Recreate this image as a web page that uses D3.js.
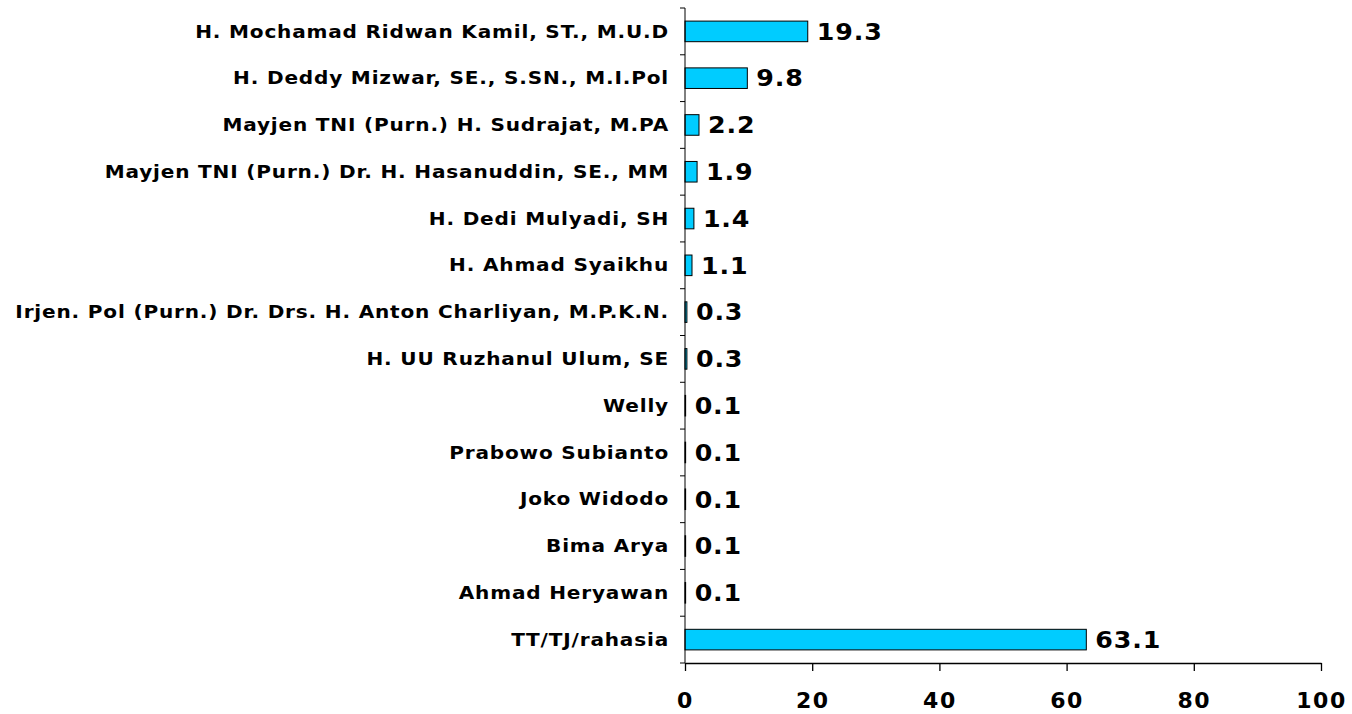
<!DOCTYPE html>
<html>
<head>
<meta charset="utf-8">
<script src="https://cdn.jsdelivr.net/npm/d3@7"></script>
<style>
  body { margin: 0; background: #fff; }
  text { font-family: "DejaVu Sans", Verdana, sans-serif; font-weight: bold; fill: #000; }
</style>
</head>
<body>
<svg id="chart" width="1352" height="714"></svg>
<script>
var categories = [
  "H. Mochamad Ridwan Kamil, ST., M.U.D",
  "H. Deddy Mizwar, SE., S.SN., M.I.Pol",
  "Mayjen TNI (Purn.) H. Sudrajat, M.PA",
  "Mayjen TNI (Purn.) Dr. H. Hasanuddin, SE., MM",
  "H. Dedi Mulyadi, SH",
  "H. Ahmad Syaikhu",
  "Irjen. Pol (Purn.) Dr. Drs. H. Anton Charliyan, M.P.K.N.",
  "H. UU Ruzhanul Ulum, SE",
  "Welly",
  "Prabowo Subianto",
  "Joko Widodo",
  "Bima Arya",
  "Ahmad Heryawan",
  "TT/TJ/rahasia"
];
var values = [19.3, 9.8, 2.2, 1.9, 1.4, 1.1, 0.3, 0.3, 0.1, 0.1, 0.1, 0.1, 0.1, 63.1];
var xTicks = [0, 20, 40, 60, 80, 100];

var margin = {top: 8, left: 685, right: 31, bottom: 51};
var width = 1352 - margin.left - margin.right;
var height = 714 - margin.top - margin.bottom;

var svg = d3.select("#chart")
  .append("g")
  .attr("transform", "translate(" + margin.left + "," + margin.top + ")");

var x = d3.scaleLinear().domain([0, 100]).range([0, width]);
var y = d3.scaleBand().domain(categories).range([0, height]).paddingInner(0.56).paddingOuter(0.28);

// bars
svg.selectAll(".bar")
  .data(values)
  .enter()
  .append("rect")
  .attr("class", "bar")
  .attr("x", x(0))
  .attr("y", function(d, i) { return y(categories[i]); })
  .attr("width", function(d) { return x(d) - x(0); })
  .attr("height", y.bandwidth())
  .style("fill", "#00ccff")
  .style("stroke", "#000")
  .style("stroke-width", 1);

// value labels
svg.selectAll(".val")
  .data(values)
  .enter()
  .append("text")
  .attr("class", "val")
  .attr("transform", function(d, i) {
    return "translate(" + (x(d) + 9) + "," + (y(categories[i]) + y.bandwidth() / 2) + ") scale(1.1,1)";
  })
  .attr("dy", "0.36em")
  .style("font-size", "23px")
  .style("letter-spacing", "0.8px")
  .text(function(d) { return d.toFixed(1); });

// y axis: ticks at band boundaries
var yAxisG = svg.append("g").attr("class", "y axis");
yAxisG.append("line")
  .attr("x1", 0).attr("x2", 0)
  .attr("y1", 0).attr("y2", height)
  .style("stroke", "#000");
var bounds = d3.range(categories.length + 1).map(function(i) { return i * (height / categories.length); });
yAxisG.selectAll(".tk")
  .data(bounds)
  .enter()
  .append("line")
  .attr("x1", -5).attr("x2", 0)
  .attr("y1", function(d) { return d; })
  .attr("y2", function(d) { return d; })
  .style("stroke", "#000");
yAxisG.selectAll(".lbl")
  .data(categories)
  .enter()
  .append("text")
  .attr("transform", function(d) {
    return "translate(-16," + (y(d) + y.bandwidth() / 2) + ") scale(1.18,1)";
  })
  .attr("dy", "0.36em")
  .attr("text-anchor", "end")
  .style("font-size", "17px")
  .style("letter-spacing", "0.7px")
  .text(function(d) { return d; });

// x axis
var xAxis = d3.axisBottom(x).tickValues(xTicks).tickSize(8).tickPadding(21).tickSizeOuter(0);
var xg = svg.append("g")
  .attr("class", "x axis")
  .attr("transform", "translate(0," + height + ")")
  .call(xAxis);
xg.select(".domain").style("stroke", "#000").style("stroke-width", 1.3);
xg.selectAll(".tick line").style("stroke", "#000").style("stroke-width", 1.3);
xg.selectAll(".tick text")
  .style("font-size", "22px")
  .style("font-family", "'DejaVu Sans', Verdana, sans-serif")
  .style("font-weight", "bold")
  .style("letter-spacing", "1.5px")
  .attr("fill", "#000");
</script>
</body>
</html>
